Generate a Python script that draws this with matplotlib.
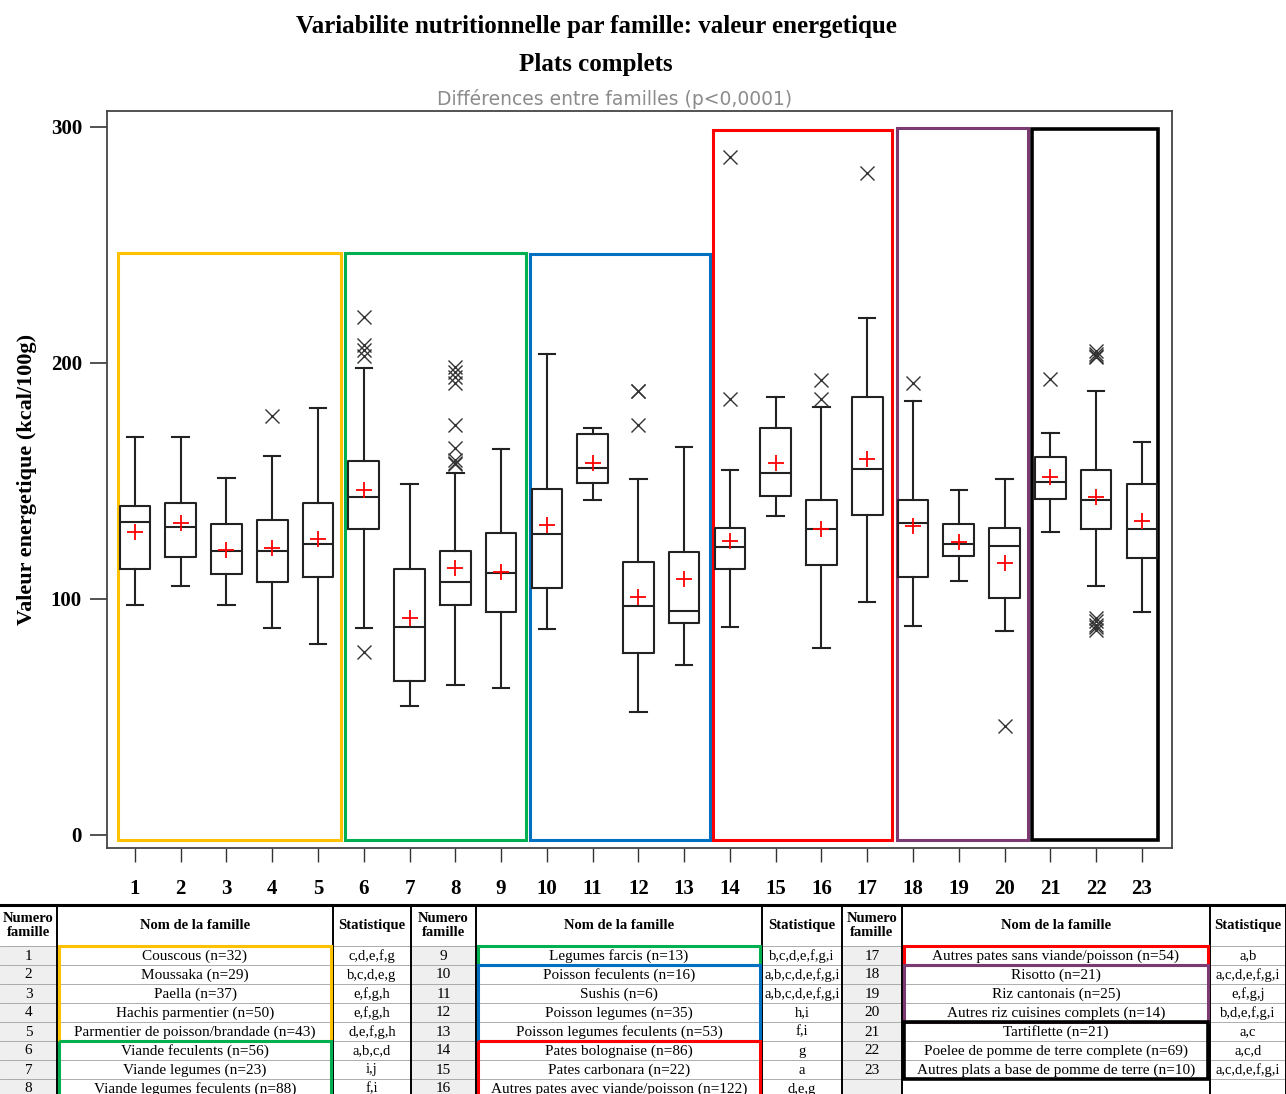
import matplotlib
matplotlib.use('Agg')
import matplotlib.pyplot as plt
from matplotlib.patches import Rectangle

# --- data ---
familles = list(range(1, 24))
q1 = [112.6, 117.7, 110.6, 107.3, 109.5, 129.8, 65.4, 97.3, 94.6, 104.6, 149.3, 77.1,
      90.0, 112.5, 143.5, 114.2, 135.5, 109.3, 118.2, 100.6, 142.5, 129.7, 117.5]
med = [132.5, 130.4, 120.3, 120.3, 123.3, 143.1, 88.3, 107.3, 110.9, 127.7, 155.6, 97.1,
       94.9, 121.9, 153.3, 129.7, 155.1, 132.3, 123.4, 122.6, 149.4, 141.8, 129.7]
q3 = [139.3, 140.7, 131.6, 133.5, 140.7, 158.3, 112.6, 120.3, 127.8, 146.7, 169.7, 115.6,
      120.0, 130.0, 172.4, 141.8, 185.7, 141.8, 131.8, 130.2, 160.3, 154.5, 148.8]
whislo = [97.3, 105.5, 97.3, 87.6, 80.8, 87.6, 54.5, 63.6, 62.1, 87.3, 141.8, 52.3,
          72.1, 88.1, 135.3, 79.2, 98.8, 88.4, 107.5, 86.4, 128.5, 105.5, 94.6]
whishi = [168.8, 168.8, 151.4, 160.5, 180.8, 198.0, 148.9, 153.4, 163.6, 203.6, 172.4, 150.7,
          164.5, 154.5, 185.7, 181.5, 218.9, 183.9, 146.2, 150.7, 170.5, 188.3, 166.7]
moyennes = [128.5, 132.3, 120.8, 121.5, 125.3, 146.2, 91.8, 113.0, 111.6, 131.3, 157.5, 100.7,
            108.5, 124.5, 157.6, 129.7, 159.5, 130.9, 124.2, 115.1, 151.6, 143.2, 133.1]
atypiques = [[], [], [], [177.7], [],
             [219.6, 207.6, 205.5, 203.0, 77.4], [],
             [198.4, 196.3, 194.2, 191.7, 173.7, 164.1, 158.9, 157.5, 157.3], [],
             [], [], [188.1, 188.0, 173.6], [],
             [287.4, 184.6], [], [192.8, 184.6], [280.7],
             [191.7], [], [46.2],
             [193.4], [205.0, 204.0, 203.0, 202.5, 92.0, 90.5, 89.0, 88.0, 87.0], []]

# cadres des groupes de familles : (gauche, droite, haut) en unites des axes
groupes = [(0.63, 5.50, 246.6), (5.59, 9.54, 246.6), (9.63, 13.56, 246.3),
           (13.63, 17.54, 298.7), (17.65, 20.51, 299.6), (20.61, 23.36, 299.2)]
couleurs = ['#FFC000', '#00B050', '#0070C0', '#FF0000', '#7B3A72', '#000000']

noms = ['Couscous (n=32)', 'Moussaka (n=29)', 'Paella (n=37)', 'Hachis parmentier (n=50)',
        'Parmentier de poisson/brandade (n=43)', 'Viande feculents (n=56)',
        'Viande legumes (n=23)', 'Viande legumes feculents (n=88)', 'Legumes farcis (n=13)',
        'Poisson feculents (n=16)', 'Sushis (n=6)', 'Poisson legumes (n=35)',
        'Poisson legumes feculents (n=53)', 'Pates bolognaise (n=86)', 'Pates carbonara (n=22)',
        'Autres pates avec viande/poisson (n=122)', 'Autres pates sans viande/poisson (n=54)',
        'Risotto (n=21)', 'Riz cantonais (n=25)', 'Autres riz cuisines complets (n=14)',
        'Tartiflette (n=21)', 'Poelee de pomme de terre complete (n=69)',
        'Autres plats a base de pomme de terre (n=10)']
stats = ['c,d,e,f,g', 'b,c,d,e,g', 'e,f,g,h', 'e,f,g,h', 'd,e,f,g,h', 'a,b,c,d', 'i,j', 'f,i',
         'b,c,d,e,f,g,i', 'a,b,c,d,e,f,g,i', 'a,b,c,d,e,f,g,i', 'h,i', 'f,i', 'g', 'a', 'd,e,g',
         'a,b', 'a,c,d,e,f,g,i', 'e,f,g,j', 'b,d,e,f,g,i', 'a,c', 'a,c,d', 'a,c,d,e,f,g,i']

serif = ['Liberation Serif', 'DejaVu Serif']

fig = plt.figure(figsize=(12.86, 10.94), dpi=100)
ax = fig.add_axes([0.0832, 0.2249, 0.8282, 0.6737])

bstats = []
for i in range(len(familles)):
    bstats.append(dict(med=med[i], q1=q1[i], q3=q3[i], whislo=whislo[i], whishi=whishi[i],
                       mean=moyennes[i], fliers=atypiques[i], label=str(familles[i])))

lprops = dict(color='#222222', linewidth=1.5)
ax.bxp(bstats, positions=familles, widths=0.67, capwidths=0.36, showmeans=True,
       boxprops=lprops, whiskerprops=lprops, capprops=lprops,
       medianprops=dict(color='#222222', linewidth=1.5),
       meanprops=dict(marker='+', markeredgecolor='red', markersize=11, markeredgewidth=1.3,
                      linestyle='none'),
       flierprops=dict(marker='x', markeredgecolor='#333333', markersize=10,
                       markeredgewidth=1.0, linestyle='none'))

for (a, b, h), c in zip(groupes, couleurs):
    lw = 2.6 if c == '#000000' else 2.2
    ax.add_patch(Rectangle((a, -2.2), b - a, h + 2.2, fill=False, edgecolor=c,
                           linewidth=lw, zorder=0.5))

ax.set_xlim(0.39, 23.66)
ax.set_ylim(-5.5, 306.8)
ax.set_xticks(familles)
ax.set_xticklabels([str(f) for f in familles], fontsize=15, fontweight='bold', family=serif)
ax.set_yticks([0, 100, 200, 300])
ax.set_yticklabels(['0', '100', '200', '300'], fontsize=15, fontweight='bold', family=serif)
ax.tick_params(axis='x', length=10, width=1, pad=12, color='#333333')
ax.tick_params(axis='y', length=12, width=1.2, pad=6, color='#333333')
for s in ax.spines.values():
    s.set_color('#444444')
    s.set_linewidth(1.3)
ax.set_ylabel('Valeur energetique (kcal/100g)', fontsize=16, fontweight='bold',
              family=serif, labelpad=10)

fig.text(596 / 1286, 1 - 27 / 1094, 'Variabilite nutritionnelle par famille: valeur energetique',
         ha='center', va='center', fontsize=18, fontweight='bold', family=serif)
fig.text(596 / 1286, 1 - 64 / 1094, 'Plats complets', ha='center', va='center',
         fontsize=18, fontweight='bold', family=serif)
fig.text(615 / 1286, 1 - 99 / 1094, 'Différences entre familles (p<0,0001)', ha='center',
         va='center', fontsize=13.5, color='#8c8c8c', family=['Liberation Sans Narrow', 'DejaVu Sans'])

# --- tableau des familles ---
tab = fig.add_axes([0, 0, 1, 1])
tab.set_xlim(0, 1286)
tab.set_ylim(1094, 0)
tab.axis('off')

y_head, y_row0, h_row = 905, 946, 19
blocs = [(0, 57, 333, 411), (411, 476, 762, 842), (842, 902, 1210, 1286)]
for b, (x0, x1, x2, x3) in enumerate(blocs):
    # fond gris de la colonne numero
    tab.add_patch(Rectangle((x0, y_row0), x1 - x0, 8 * h_row, facecolor='#efefef',
                            edgecolor='none', zorder=1))
    tab.text((x0 + x1) / 2, (y_head + y_row0) / 2, 'Numero\nfamille', ha='center',
             va='center', fontsize=10.5, fontweight='bold', family=serif, linespacing=1.0)
    tab.text((x1 + x2) / 2, (y_head + y_row0) / 2, 'Nom de la famille', ha='center',
             va='center', fontsize=10.5, fontweight='bold', family=serif)
    tab.text(1248 if b == 2 else (x2 + x3) / 2, (y_head + y_row0) / 2,
             'Statistique', ha='center', va='center', fontsize=10.5, fontweight='bold',
             family=serif)
    for r in range(8):
        k = b * 8 + r
        yc = y_row0 + h_row * (r + 0.5) + 0.5
        tab.plot([x0, x3], [y_row0 + h_row * (r + 1)] * 2, color='#a0a0a0', lw=0.6, zorder=1.5)
        if k >= len(noms):
            continue
        tab.text((x0 + x1) / 2, yc, str(k + 1), ha='center', va='center', fontsize=11,
                 family=serif, zorder=3)
        tab.text((x1 + x2) / 2, yc, noms[k], ha='center', va='center', fontsize=11,
                 family=serif, zorder=3)
        tab.text((x2 + x3) / 2, yc, stats[k], ha='center', va='center', fontsize=10.5,
                 family=serif, zorder=3)
    for xv in (x1, x2, x3):
        tab.plot([xv, xv], [y_head, 1094], color='black', lw=1.4, zorder=2)
tab.plot([0, 1286], [y_head, y_head], color='black', lw=2.2, zorder=2)
tab.plot([0, 1286], [y_row0, y_row0], color='#a0a0a0', lw=0.6, zorder=1.5)

# cadres de couleur autour des noms de familles
cadres = [(0, 0, 5, '#FFC000'), (0, 5, 8, '#00B050'), (1, 0, 1, '#00B050'),
          (1, 1, 5, '#0070C0'), (1, 5, 8, '#FF0000'), (2, 0, 1, '#FF0000'),
          (2, 1, 4, '#7B3A72'), (2, 4, 7, '#000000')]
for b, r0, r1, c in cadres:
    x0, x1, x2, x3 = blocs[b]
    tab.add_patch(Rectangle((x1 + 2, y_row0 + r0 * h_row), x2 - x1 - 4, (r1 - r0) * h_row,
                            fill=False, edgecolor=c, lw=2.6 if c == '#000000' else 2.2, zorder=4))

fig.savefig('out.png', dpi=100)
